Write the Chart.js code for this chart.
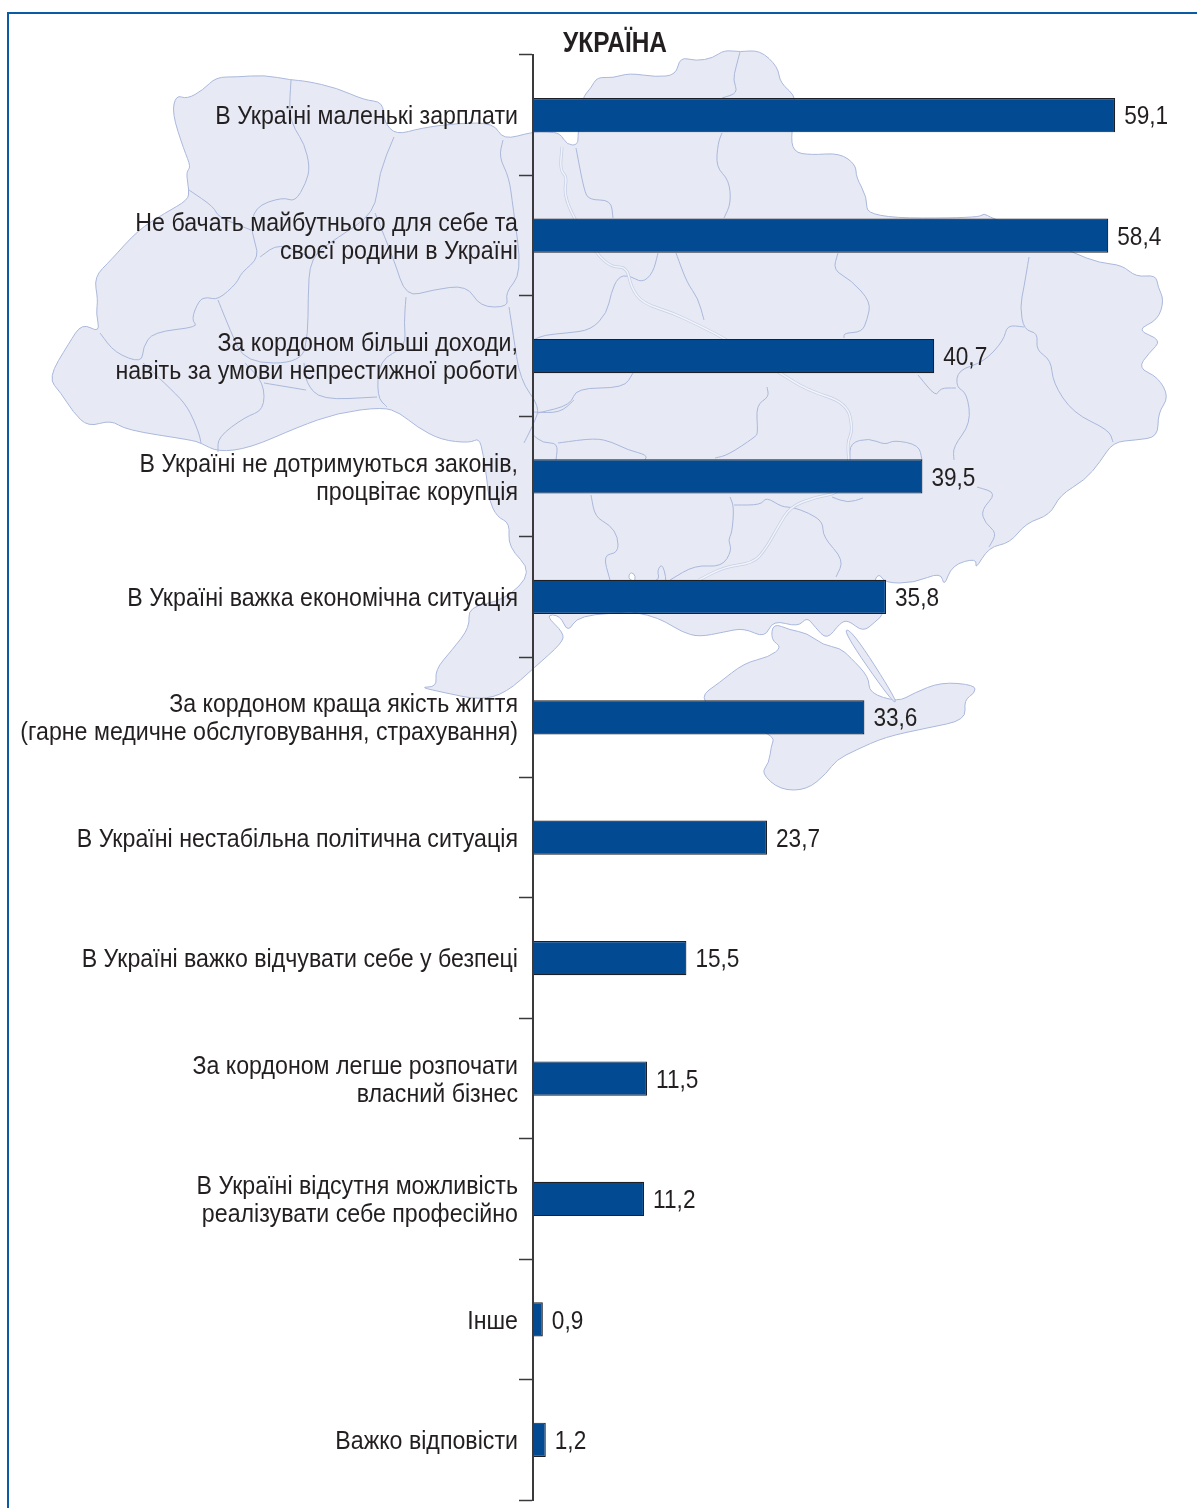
<!DOCTYPE html>
<html lang="uk">
<head>
<meta charset="utf-8">
<title>Україна</title>
<script src="https://cdn.jsdelivr.net/npm/chart.js@4"></script>
<style>
    html, body { margin: 0; padding: 0; background: #fff; }
    #wrap { position: relative; width: 1197px; height: 1508px; overflow: hidden; }
    #frame { position: absolute; left: 7px; top: 12px; right: 0; bottom: 0; border-left: 2px solid #0a5aa5; border-top: 2px solid #0a5aa5; }
    canvas { position: absolute; left: 0; top: 0; }
</style>
</head>
<body>
<div id="wrap">
    <div id="frame"></div>
    <canvas id="chart" width="1197" height="1508"></canvas>
</div>
<script>
const chartTitle = 'УКРАЇНА';
const categories = [
    ['В Україні маленькі зарплати'],
    ['Не бачать майбутнього для себе та', 'своєї родини в Україні'],
    ['За кордоном більші доходи,', 'навіть за умови непрестижної роботи'],
    ['В Україні не дотримуються законів,', 'процвітає корупція'],
    ['В Україні важка економічна ситуація'],
    ['За кордоном краща якість життя', '(гарне медичне обслуговування, страхування)'],
    ['В Україні нестабільна політична ситуація'],
    ['В Україні важко відчувати себе у безпеці'],
    ['За кордоном легше розпочати', 'власний бізнес'],
    ['В Україні відсутня можливість', 'реалізувати себе професійно'],
    ['Інше'],
    ['Важко відповісти']
];
const values = [59.1, 58.4, 40.7, 39.5, 35.8, 33.6, 23.7, 15.5, 11.5, 11.2, 0.9, 1.2];

const FONT = '"Liberation Sans", Arial, sans-serif';
const INK = '#231f20';
// the original type is condensed, no narrow font is installed
const NARROW_LABEL = 0.892;
const NARROW_VALUE = 0.87;

// background map, traced by hand (decoration only, not data)
const mapOutline = [[176,95],[187,99],[203,90],[216,77],[237,77],[264,75],[291,80],[306,81],[337,88],[364,100],[383,102],[384,122],[396,135],[421,128],[459,123],[494,123],[503,140],[532,132],[547,132],[560,133],[567,145],[578,145],[578,133],[582,98],[591,88],[597,77],[613,78],[629,73],[656,77],[676,75],[680,57],[696,61],[713,58],[724,50],[740,52],[760,50],[778,67],[780,83],[798,98],[791,133],[793,152],[811,155],[840,153],[856,165],[856,177],[867,197],[867,218],[978,218],[984,213],[991,218],[1040,235],[1073,253],[1100,263],[1122,265],[1136,277],[1156,275],[1158,287],[1164,300],[1158,320],[1136,330],[1162,340],[1149,353],[1138,368],[1158,377],[1169,397],[1158,413],[1158,437],[1136,440],[1113,442],[1100,462],[1085,480],[1060,495],[1050,515],[1026,523],[1010,543],[989,547],[975,570],[977,558],[952,565],[944,587],[941,572],[914,583],[885,583],[879,573],[873,583],[885,613],[875,622],[863,632],[848,620],[840,623],[827,640],[815,627],[807,617],[798,627],[773,620],[765,638],[744,628],[724,632],[699,637],[682,632],[666,622],[649,615],[620,610],[636,580],[634,573],[629,573],[629,582],[660,582],[657,570],[663,563],[668,590],[640,612],[578,615],[568,633],[560,615],[545,615],[564,633],[562,643],[535,667],[506,693],[480,700],[446,693],[419,687],[437,687],[435,670],[452,650],[470,627],[468,607],[505,600],[533,572],[508,547],[510,523],[497,517],[489,500],[487,480],[483,453],[479,438],[470,443],[441,440],[417,427],[400,413],[383,407],[337,413],[298,427],[250,448],[218,452],[201,443],[191,440],[126,430],[111,420],[88,427],[73,412],[61,393],[48,378],[69,343],[82,323],[100,333],[96,313],[98,300],[94,277],[111,260],[138,230],[165,213],[188,200],[189,190],[186,172],[191,167],[184,150],[172,113]];
const crimea = [[773,623],[771,640],[782,647],[769,657],[744,663],[719,683],[699,697],[720,716],[775,735],[771,747],[769,763],[761,773],[780,790],[807,790],[827,773],[836,760],[856,750],[885,737],[927,728],[966,720],[964,700],[975,693],[975,685],[941,682],[914,693],[898,702],[869,693],[869,677],[850,657],[840,648],[823,645],[807,633],[790,630]];
const arabat = [[842,630],[852,630],[898,702],[892,702]];
const regionLines = [
    [[291,80],[289,113],[295,130],[304,143],[310,167],[306,183],[295,202],[283,197],[254,207],[251,233],[260,257],[241,273],[237,283],[218,300],[207,297],[199,300],[191,320],[199,327],[153,332],[143,347],[142,363],[115,353],[100,333]],
    [[189,190],[214,207],[218,217],[251,230]],
    [[218,300],[230,330],[245,363],[302,363],[308,333],[308,300],[310,257],[337,238],[375,213],[379,173],[394,137]],
    [[260,257],[279,243],[310,257]],
    [[375,213],[394,260],[406,297],[432,290],[467,285],[480,307],[509,307],[505,293],[522,273],[513,207],[509,177],[499,157],[503,140]],
    [[406,297],[404,323],[406,347],[379,360],[377,397],[387,407]],
    [[304,363],[306,383],[321,400],[377,397]],
    [[143,363],[172,390],[188,407],[199,433],[201,443]],
    [[245,363],[264,383],[264,410],[245,417],[218,437],[218,452]],
    [[264,383],[306,390]],
    [[509,307],[513,333],[520,380],[540,407],[534,423],[524,443]],
    [[722,98],[738,93],[733,80],[736,67],[740,52]],
    [[722,133],[718,143],[716,167],[729,180],[731,203],[724,218]],
    [[576,148],[584,190],[589,200],[611,200],[613,218]],
    [[658,253],[653,273],[642,283],[629,275],[618,277],[611,293],[607,313],[591,330],[567,333],[544,335],[533,340]],
    [[676,253],[687,283],[698,298],[704,320]],
    [[838,253],[833,270],[851,280],[871,302],[867,320],[862,332],[844,333],[844,338]],
    [[1029,257],[1024,287],[1020,307],[1024,330],[1038,333],[1036,350],[1051,360],[1053,383],[1073,413],[1109,430],[1113,442]],
    [[1024,327],[1007,325],[1004,340],[984,362],[958,370],[956,387],[967,393],[971,423],[953,447],[954,460]],
    [[918,375],[936,397],[940,388],[956,388]],
    [[767,387],[769,397],[756,405],[758,433],[755,437],[728,455],[715,458]],
    [[633,373],[624,388],[576,388],[571,405],[538,413]],
    [[850,460],[850,443],[869,438],[885,445],[894,440],[919,445],[922,460]],
    [[533,435],[543,443],[558,443],[556,460]],
    [[558,443],[595,438],[612,442],[628,450],[647,455],[645,460]],
    [[533,412],[560,413],[574,400]],
    [[591,495],[595,517],[610,525],[618,537],[618,553],[603,555],[610,580]],
    [[730,497],[734,507],[732,533],[728,540],[732,550],[722,567],[695,565],[670,580]],
    [[734,505],[761,505],[766,497],[782,507],[792,507],[809,513],[823,522],[823,537],[844,560],[836,577]],
    [[832,497],[848,503],[863,498]],
    [[977,487],[997,493],[981,510],[985,523],[997,533],[989,547]]
];
const riverLine = [[562,147],[560,170],[567,177],[564,193],[573,217],[596,253],[611,267],[627,267],[631,287],[642,303],[673,313],[698,325],[724,338],[780,373],[807,390],[847,403],[853,430],[847,443],[850,470],[840,493],[815,497],[790,507],[778,527],[765,550],[753,563],[724,567],[699,580]];

// rounds the traced corners a little so borders do not look like straight segments
function tracePath(ctx, pts, close) {
    ctx.beginPath();
    if (close) {
        const last = pts[pts.length - 1];
        ctx.moveTo((last[0] + pts[0][0]) / 2, (last[1] + pts[0][1]) / 2);
    } else {
        ctx.moveTo(pts[0][0], pts[0][1]);
    }
    pts.forEach((p, i) => {
        const next = pts[i + 1] || (close ? pts[0] : p);
        ctx.quadraticCurveTo(p[0], p[1], (p[0] + next[0]) / 2, (p[1] + next[1]) / 2);
    });
    if (close) ctx.closePath();
}

function narrowText(ctx, text, x, y, ratio) {
    ctx.fillText(text, x, y, ctx.measureText(text).width * ratio);
}

const mapPlugin = {
    id: 'mapBackground',
    beforeDraw(chart) {
        const ctx = chart.ctx;
        ctx.save();
        ctx.lineJoin = 'round';
        ctx.fillStyle = '#e7eaf4';
        ctx.strokeStyle = '#aab8dc';
        ctx.lineWidth = 1;
        [mapOutline, crimea, arabat].forEach(shape => {
            tracePath(ctx, shape, true);
            ctx.fill();
            ctx.stroke();
        });
        regionLines.forEach(line => {
            tracePath(ctx, line, false);
            ctx.stroke();
        });
        ctx.strokeStyle = '#c6cfe6';
        ctx.lineWidth = 3;
        tracePath(ctx, riverLine, false);
        ctx.stroke();
        ctx.strokeStyle = '#f1f3f9';
        ctx.lineWidth = 1.5;
        tracePath(ctx, riverLine, false);
        ctx.stroke();
        ctx.restore();
    }
};

const labelPlugin = {
    id: 'chartTexts',
    afterDatasetsDraw(chart) {
        const ctx = chart.ctx;
        const yScale = chart.scales.y;
        ctx.save();
        ctx.fillStyle = INK;
        ctx.textBaseline = 'middle';

        // category labels
        ctx.font = '26px ' + FONT;
        ctx.textAlign = 'right';
        categories.forEach((lines, i) => {
            const mid = yScale.getPixelForValue(i);
            lines.forEach((line, j) => {
                const y = mid + 2 + (j - (lines.length - 1) / 2) * 28;
                narrowText(ctx, line, yScale.right - 15, y, NARROW_LABEL);
            });
        });

        // value labels
        ctx.textAlign = 'left';
        chart.getDatasetMeta(0).data.forEach((bar, i) => {
            narrowText(ctx, values[i].toFixed(1).replace('.', ','), bar.x + 9, bar.y + 2, NARROW_VALUE);
        });

        ctx.font = 'bold 29px ' + FONT;
        ctx.fillText(chartTitle, chart.chartArea.left + 30, 44, 104);
        ctx.restore();
    }
};

new Chart(document.getElementById('chart'), {
    type: 'bar',
    data: {
        labels: categories,
        datasets: [{
            data: values,
            backgroundColor: '#024a91',
            borderColor: '#1c1f26',
            borderWidth: 1.2,
            barPercentage: 0.285,
            categoryPercentage: 1
        }]
    },
    options: {
        indexAxis: 'y',
        responsive: false,
        animation: false,
        devicePixelRatio: 1,
        layout: { padding: { top: 55, right: 73, bottom: 8, left: 0 } },
        plugins: { legend: { display: false }, tooltip: { enabled: false }, title: { display: false } },
        scales: {
            // zero sits a hair right of the axis line in the original
            x: { display: false, min: -0.1, max: 60 },
            y: {
                afterFit: (scale) => { scale.width = 533; },
                border: { color: '#3a3a3c', width: 2 },
                grid: { offset: true, drawOnChartArea: false, color: '#3a3a3c', tickLength: 14, tickWidth: 1.5 },
                ticks: { display: false, autoSkip: false }
            }
        }
    },
    plugins: [mapPlugin, labelPlugin]
});
</script>
</body>
</html>
